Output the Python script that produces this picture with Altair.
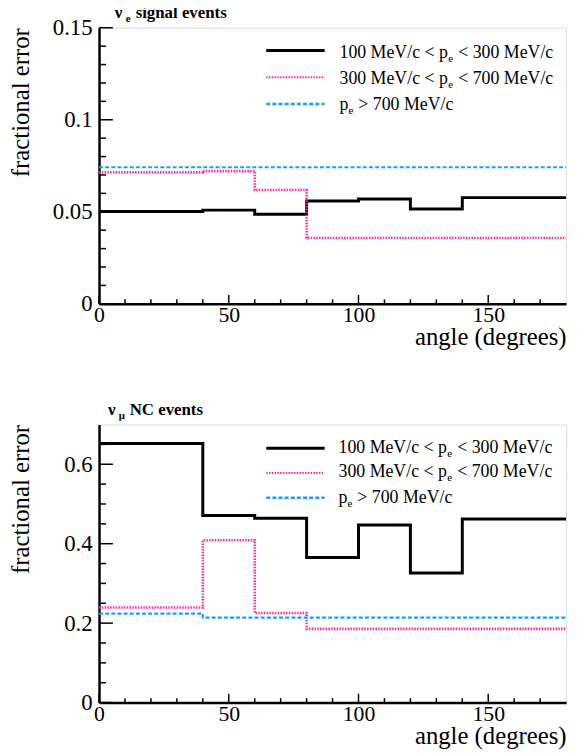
import altair as alt
import pandas as pd

FONT = "Liberation Serif"

# ---------------- data ----------------
edges = [0, 20, 40, 60, 80, 100, 120, 140, 160, 180]
series_names = ["100-300", "300-700", ">700"]

# top panel: nu_e signal events (fractional error per 20-degree bin)
sig_low = [0.0502, 0.0502, 0.0509, 0.0487, 0.0559, 0.0570, 0.0515, 0.0577, 0.0577]
sig_mid = [0.0714, 0.0714, 0.0721, 0.0618, 0.0358, 0.0358, 0.0358, 0.0358, 0.0358]
sig_high = [0.0742, 0.0742, 0.0742, 0.0742, 0.0742, 0.0742, 0.0742, 0.0742, 0.0742]

# bottom panel: nu_mu NC events
nc_low = [0.652, 0.652, 0.471, 0.464, 0.365, 0.447, 0.326, 0.462, 0.462]
nc_mid = [0.2395, 0.2395, 0.4087, 0.2256, 0.1856, 0.1856, 0.1856, 0.1856, 0.1856]
nc_high = [0.224, 0.224, 0.214, 0.214, 0.214, 0.214, 0.214, 0.214, 0.214]

x_major = [0, 50, 100, 150]
x_minor = [10, 20, 30, 40, 60, 70, 80, 90, 110, 120, 130, 140, 160, 170]

sig_y_major = [0, 0.05, 0.1, 0.15]
sig_y_minor = [0.01, 0.02, 0.03, 0.04, 0.06, 0.07, 0.08, 0.09, 0.11, 0.12, 0.13, 0.14]
nc_y_major = [0, 0.2, 0.4, 0.6]
nc_y_minor = [0.05, 0.1, 0.15, 0.25, 0.3, 0.35, 0.45, 0.5, 0.55, 0.65]

legend_lo = ["100 MeV/c < p", "< 300 MeV/c"]
legend_mid = ["300 MeV/c < p", "< 700 MeV/c"]
legend_hi = ["p", "> 700 MeV/c"]

COLORS = ["#000000", "#ff2a9c", "#1a9cff"]
DASHES = [[1, 0], [1.5, 1.3], [4, 2.2]]
WIDTHS = [3, 2.2, 2.6]

W = 472


def one(s, x, y, size, bold=False, align="left", baseline="alphabetic"):
    return alt.Chart(alt.Data(values=[{}])).mark_text(
        text=s, font=FONT, fontSize=size, fontWeight="bold" if bold else "normal",
        align=align, baseline=baseline, color="black",
    ).encode(x=alt.value(x), y=alt.value(y))


def seg(i, x1, x2, y):
    return alt.Chart(alt.Data(values=[{}])).mark_rule(
        color=COLORS[i], strokeDash=DASHES[i], strokeWidth=WIDTHS[i], strokeCap="butt"
    ).encode(x=alt.value(x1), x2=alt.value(x2), y=alt.value(y))


def panel(low, mid, high, ymax, ymaj, ymin, H, title_parts, rule_y, text_y, text_x):
    rows = []
    for name, vals in zip(series_names, [low, mid, high]):
        for i, e in enumerate(edges):
            rows.append({"series": name, "angle": e, "err": vals[min(i, len(vals) - 1)]})
    df = pd.DataFrame(rows)

    xs = alt.Scale(domain=[0, 180], nice=False, zero=False)
    ys = alt.Scale(domain=[0, ymax], nice=False, zero=True)

    xaxis = alt.Axis(
        values=x_major, ticks=False, tickSize=0, grid=False, labelFlush=False, labelOverlap=False,
        labelFont=FONT, labelFontSize=22, labelColor="black", labelPadding=1,
        domainColor="black", domainWidth=2.5,
        title="angle (degrees)", titleFont=FONT, titleFontSize=25, titleFontWeight="normal",
        titleColor="black", titleAnchor="end", titleAlign="right", titleX=W,
        titleY=41, titleBaseline="alphabetic",
    )
    yaxis = alt.Axis(
        values=ymaj, ticks=False, tickSize=0, grid=False, labelFlush=False, labelOverlap=False,
        labelExpr="format(datum.value, '~g')",
        labelFont=FONT, labelFontSize=23, labelColor="black", labelPadding=7,
        domainColor="black", domainWidth=2.5,
        title="fractional error", titleFont=FONT, titleFontSize=25, titleFontWeight="normal",
        titleColor="black", titleAnchor="end", titleAlign="right", titleAngle=270,
        titleX=-66, titleY=0, titleBaseline="bottom",
    )

    lines = alt.Chart(df).mark_line(interpolate="step-after", strokeCap="butt").encode(
        x=alt.X("angle:Q", scale=xs, axis=xaxis),
        y=alt.Y("err:Q", scale=ys, axis=yaxis),
        color=alt.Color("series:N", scale=alt.Scale(domain=series_names, range=COLORS), legend=None),
        strokeDash=alt.StrokeDash("series:N", scale=alt.Scale(domain=series_names, range=DASHES), legend=None),
        strokeWidth=alt.StrokeWidth("series:N", scale=alt.Scale(domain=series_names, range=WIDTHS), legend=None),
    )

    xt_major = alt.Chart(pd.DataFrame({"t": x_major})).mark_rule(color="black", strokeWidth=1.5).encode(
        x=alt.X("t:Q", scale=xs, axis=xaxis), y=alt.value(H), y2=alt.value(H - 9))
    xt_minor = alt.Chart(pd.DataFrame({"t": x_minor})).mark_rule(color="black", strokeWidth=1.5).encode(
        x=alt.X("t:Q", scale=xs, axis=xaxis), y=alt.value(H), y2=alt.value(H - 4.5))
    yt_major = alt.Chart(pd.DataFrame({"t": ymaj})).mark_rule(color="black", strokeWidth=1.5).encode(
        y=alt.Y("t:Q", scale=ys, axis=yaxis), x=alt.value(0), x2=alt.value(14))
    yt_minor = alt.Chart(pd.DataFrame({"t": ymin})).mark_rule(color="black", strokeWidth=1.5).encode(
        y=alt.Y("t:Q", scale=ys, axis=yaxis), x=alt.value(0), x2=alt.value(7))

    layers = [lines, xt_major, xt_minor, yt_major, yt_minor]

    # panel title (greek letter with subscript)
    (g, gx), (sub, sx), (rest, rx) = title_parts
    layers += [one(g, gx, -10, 17, bold=True), one(sub, sx, -6, 11, bold=True), one(rest, rx, -10, 17, bold=True)]

    # legend
    for i, parts in enumerate([legend_lo, legend_mid, legend_hi]):
        layers.append(seg(i, 169, 228, rule_y[i]))
        first, second = parts
        if i < 2:
            layers += [one(first, text_x, text_y[i], 18),
                       one("e", text_x + 110, text_y[i] + 4, 11),
                       one(second, text_x + 120, text_y[i], 18)]
        else:
            layers += [one(first, text_x, text_y[i], 18),
                       one("e", text_x + 9, text_y[i] + 4, 11),
                       one(second, text_x + 19, text_y[i], 18)]

    return alt.layer(*layers).properties(width=W, height=H)


top = panel(sig_low, sig_mid, sig_high, 0.15, sig_y_major, sig_y_minor, 279,
            [("ν", 16), ("e", 27), ("signal events", 37)],
            [23, 50, 77], [31, 57, 83], 243)
bottom = panel(nc_low, nc_mid, nc_high, 0.7, nc_y_major, nc_y_minor, 281,
               [("ν", 9), ("μ", 20), ("NC events", 31)],
               [24, 49, 74], [29, 53, 79], 242)

chart = alt.vconcat(top, bottom, spacing=50).properties(
    padding={"left": 0, "top": -9, "right": 0, "bottom": 0}
).configure_view(stroke="#222222", strokeWidth=1.5).configure(background="white")

chart.save("out.html", embed_options={"renderer": "svg", "actions": False})
